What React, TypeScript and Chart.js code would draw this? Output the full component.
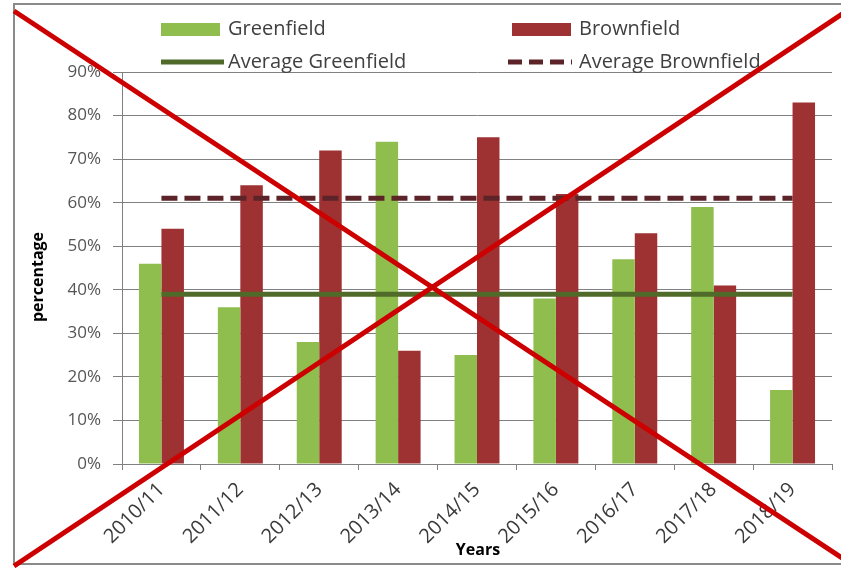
import React, { useEffect, useRef } from 'react';
import { Chart, registerables } from 'chart.js';

Chart.register(...registerables);

const categories = ['2010/11', '2011/12', '2012/13', '2013/14', '2014/15', '2015/16', '2016/17', '2017/18', '2018/19'];
const greenfield = [46, 36, 28, 74, 25, 38, 47, 59, 17];
const brownfield = [54, 64, 72, 26, 75, 62, 53, 41, 83];
const avgGreenfield = [39, 39, 39, 39, 39, 39, 39, 39, 39];
const avgBrownfield = [61, 61, 61, 61, 61, 61, 61, 61, 61];
const legendLabels = ['Greenfield', 'Brownfield', 'Average Greenfield', 'Average Brownfield'];
const yTitle = 'percentage';
const xTitle = 'Years';

const GREEN = '#8fbe4e';
const BROWN = '#9e3131';
const AVG_GREEN = '#4f6a29';
const AVG_BROWN = '#5c2428';
const GRID = '#808080';
const FONT = "'Open Sans', 'DejaVu Sans', sans-serif";

const overlayPlugin = {
  id: 'overlay',
  afterDraw(chart: any) {
    const ctx = chart.ctx as CanvasRenderingContext2D;
    ctx.save();
    // frame
    ctx.strokeStyle = '#8a8a8a';
    ctx.lineWidth = 2;
    ctx.beginPath();
    ctx.moveTo(845, 4);
    ctx.lineTo(14, 4);
    ctx.lineTo(14, 564);
    ctx.lineTo(845, 564);
    ctx.stroke();

    // legend
    ctx.font = `20px ${FONT}`;
    ctx.textBaseline = 'middle';
    ctx.textAlign = 'left';
    ctx.fillStyle = GREEN;
    ctx.fillRect(161, 23, 59, 13);
    ctx.fillStyle = BROWN;
    ctx.fillRect(512, 23, 59, 13);
    ctx.fillStyle = '#404040';
    ctx.fillText(legendLabels[0], 228, 29);
    ctx.fillText(legendLabels[1], 579, 29);
    ctx.lineWidth = 5;
    ctx.strokeStyle = AVG_GREEN;
    ctx.beginPath();
    ctx.moveTo(161, 62);
    ctx.lineTo(224, 62);
    ctx.stroke();
    ctx.strokeStyle = AVG_BROWN;
    ctx.setLineDash([14, 7]);
    ctx.beginPath();
    ctx.moveTo(508, 62);
    ctx.lineTo(572, 62);
    ctx.stroke();
    ctx.setLineDash([]);
    ctx.fillText(legendLabels[2], 228, 62);
    ctx.fillText(legendLabels[3], 579, 62);

    // axis titles
    ctx.fillStyle = '#000000';
    ctx.font = `bold 16px ${FONT}`;
    ctx.textAlign = 'center';
    ctx.fillText(xTitle, 478, 550);
    ctx.save();
    ctx.translate(38, 277);
    ctx.rotate(-Math.PI / 2);
    ctx.fillText(yTitle, 0, 0);
    ctx.restore();

    // red cross
    ctx.strokeStyle = '#cc0000';
    ctx.lineWidth = 5;
    ctx.lineCap = 'butt';
    ctx.beginPath();
    ctx.moveTo(14, 11);
    ctx.lineTo(845, 560);
    ctx.moveTo(14, 566);
    ctx.lineTo(845, 12);
    ctx.stroke();
    ctx.restore();
  },
};

export default function App() {
  const canvasRef = useRef<HTMLCanvasElement | null>(null);

  useEffect(() => {
    if (!canvasRef.current) return;
    const chart = new Chart(canvasRef.current, {
      type: 'bar',
      data: {
        labels: categories,
        datasets: [
          {
            type: 'line',
            label: legendLabels[2],
            data: avgGreenfield,
            borderColor: AVG_GREEN,
            borderWidth: 5,
            pointRadius: 0,
            fill: false,
            order: 0,
          } as any,
          {
            type: 'line',
            label: legendLabels[3],
            data: avgBrownfield,
            borderColor: AVG_BROWN,
            borderWidth: 5,
            borderDash: [16, 7],
            pointRadius: 0,
            fill: false,
            order: 0,
          } as any,
          {
            type: 'bar',
            label: legendLabels[0],
            data: greenfield,
            backgroundColor: GREEN,
            categoryPercentage: 0.57,
            barPercentage: 1,
            order: 1,
          },
          {
            type: 'bar',
            label: legendLabels[1],
            data: brownfield,
            backgroundColor: BROWN,
            categoryPercentage: 0.57,
            barPercentage: 1,
            order: 1,
          },
        ],
      },
      options: {
        responsive: false,
        animation: false,
        layout: { padding: { left: 14, top: 72, right: 9, bottom: 0 } },
        plugins: {
          legend: { display: false },
          tooltip: { enabled: false },
        },
        scales: {
          x: {
            grid: {
              display: true,
              drawOnChartArea: false,
              drawTicks: true,
              tickLength: 6,
              color: GRID,
              offset: true,
            },
            border: { display: true, color: GRID, width: 1 },
            ticks: {
              minRotation: 45,
              maxRotation: 45,
              autoSkip: false,
              padding: 8,
              color: '#3a3a3a',
              font: { family: FONT, size: 20 },
            },
            afterFit: (s: any) => {
              s.height = 104;
            },
          },
          y: {
            min: 0,
            max: 90,
            ticks: {
              stepSize: 10,
              padding: 12,
              color: '#555555',
              font: { family: FONT, size: 17 },
              callback: (v: any) => v + '%',
            },
            grid: { color: GRID, tickLength: 9, drawTicks: true },
            border: { display: true, color: GRID },
            afterFit: (s: any) => {
              s.width = 108;
            },
          },
        },
      },
      plugins: [overlayPlugin],
    });
    return () => chart.destroy();
  }, []);

  return (
    <div style={{ position: 'absolute', left: 0, top: 0, width: 841, height: 568, background: '#ffffff' }}>
      <canvas ref={canvasRef} width={841} height={568} style={{ display: 'block' }} />
    </div>
  );
}
